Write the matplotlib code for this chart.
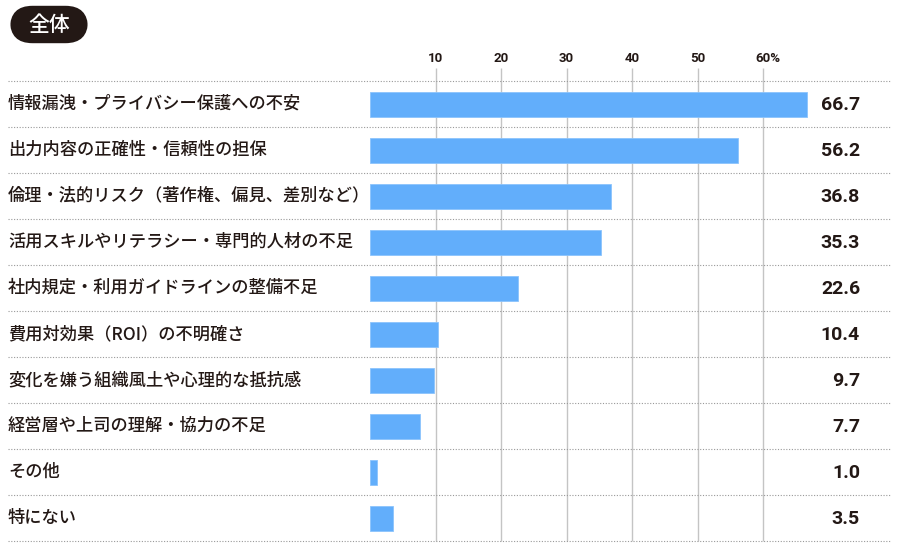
import matplotlib
matplotlib.use("Agg")
import matplotlib.pyplot as plt
from matplotlib.patches import FancyBboxPatch
import matplotlib.transforms as mtransforms

categories = [
    "情報漏洩・プライバシー保護への不安",
    "出力内容の正確性・信頼性の担保",
    "倫理・法的リスク（著作権、偏見、差別など）",
    "活用スキルやリテラシー・専門的人材の不足",
    "社内規定・利用ガイドラインの整備不足",
    "費用対効果（ROI）の不明確さ",
    "変化を嫌う組織風土や心理的な抵抗感",
    "経営層や上司の理解・協力の不足",
    "その他",
    "特にない",
]
values = [66.7, 56.2, 36.8, 35.3, 22.6, 10.4, 9.7, 7.7, 1.0, 3.5]
tick_values = [10, 20, 30, 40, 50, 60]
tick_labels = ["10", "20", "30", "40", "50", "60%"]
title = "全体"

W, H = 900, 550
fig = plt.figure(figsize=(9, 5.5), dpi=100)

TEXT = "#231815"
BAR = "#62aefb"
GRID = "#c4c4c4"

x0_px, x1_px = 370, 891
y_top_px, y_bot_px = 81, 541
px_per_unit = 6.55
ax = fig.add_axes([x0_px / W, 1 - y_bot_px / H, (x1_px - x0_px) / W, (y_bot_px - y_top_px) / H])
n = len(categories)
ax.set_xlim(0, (x1_px - x0_px) / px_per_unit)
ax.set_ylim(n - 0.5, -0.5)
ax.axis("off")

row_px = (y_bot_px - y_top_px) / n

# vertical gridlines
ext = 13 / row_px
for t in tick_values:
    ax.vlines(t, -0.5 - ext, n - 0.5, color=GRID, lw=1.0, zorder=1, clip_on=False)

# dotted row separators extending to left edge
xmin_frac = (8 - x0_px) / (x1_px - x0_px)
for i in range(n + 1):
    ax.axhline(i - 0.5, xmin=xmin_frac, xmax=1.0, color="#999999", lw=0.8,
               ls=(0, (1, 1.5)), clip_on=False, zorder=2)

ax.barh(range(n), values, height=25 / row_px, color=BAR, edgecolor="#8cc4fc",
        lw=0.6, zorder=3)

# tick labels
for t, lab in zip(tick_values, tick_labels):
    dx = 5 if lab.endswith("%") else 0
    tr = mtransforms.offset_copy(ax.transData, fig=fig, x=dx, y=0, units="dots")
    ax.text(t, -0.5 - 23 / row_px, lab, transform=tr, ha="center", va="center",
            fontsize=9.5, fontweight="bold", family=["Roboto", "DejaVu Sans"],
            color=TEXT, clip_on=False)

# category labels and values
lab_tr = mtransforms.blended_transform_factory(fig.transFigure, ax.transData)
for i, (c, v) in enumerate(zip(categories, values)):
    ax.text(8 / W, i, c, transform=lab_tr, ha="left", va="center", fontsize=12.4,
            fontweight="medium", family=["Noto Sans CJK JP", "DejaVu Sans"], color=TEXT)
    ax.text(860 / W, i + 0.02, f"{v:.1f}", transform=lab_tr, ha="right", va="center",
            fontsize=14, fontweight="bold", family=["Roboto", "DejaVu Sans"], color=TEXT)

# title pill
pill = FancyBboxPatch((10 / W + 0.012, 1 - 39 / H + 0.012), (78 / W) - 0.024, (29 / H) - 0.024,
                      boxstyle="round,pad=0.012,rounding_size=0.025",
                      transform=fig.transFigure, facecolor="#231815", edgecolor="none",
                      mutation_aspect=W / H)
fig.patches.append(pill)
fig.text(49 / W, 1 - 25 / H, title, ha="center", va="center", color="white",
         fontsize=15, fontweight="medium", family=["Noto Sans CJK JP", "DejaVu Sans"])

fig.savefig("out.png", dpi=100, facecolor="white")
